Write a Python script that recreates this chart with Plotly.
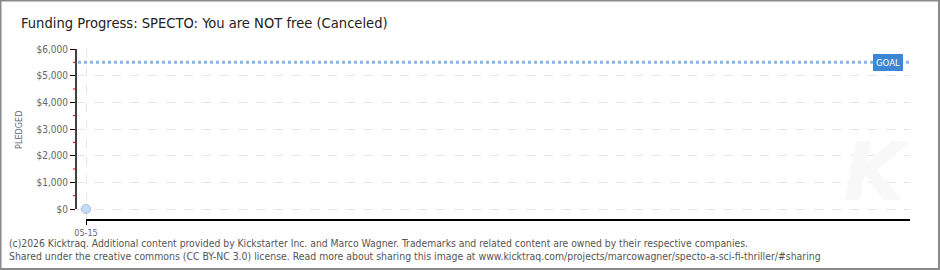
import plotly.graph_objects as go

# ---- data ----
dates = ["05-15"]
day_index = [0]
pledged = [0]
goal = 5500
y_ticks = [0, 1000, 2000, 3000, 4000, 5000, 6000]
y_tick_labels = ["$0", "$1,000", "$2,000", "$3,000", "$4,000", "$5,000", "$6,000"]
minor_ticks = [500, 1500, 2500, 3500, 4500, 5500]
title = "Funding Progress: SPECTO: You are NOT free (Canceled)"
footer1 = "(c)2026 Kicktraq. Additional content provided by Kickstarter Inc. and Marco Wagner. Trademarks and related content are owned by their respective companies."
footer2 = "Shared under the creative commons (CC BY-NC 3.0) license. Read more about sharing this image at www.kicktraq.com/projects/marcowagner/specto-a-sci-fi-thriller/#sharing"

W, H = 940, 270
ML, MR, MT, MB = 76, 30, 49, 50
PW, PH = W - ML - MR, H - MT - MB
XMAX = 1.0
XMIN = -10 / (PW - 10) * XMAX
YMIN, YMAX = -412, 6000

def px_x(p):  # pixel -> paper x
    return (p - ML) / PW

def px_y(p):  # pixel -> paper y
    return (H - MB - p) / PH

fig = go.Figure()

# goal line
fig.add_trace(go.Scatter(
    x=[XMIN * 0.8, XMAX], y=[goal, goal], mode="lines",
    line=dict(color="#86b7e8", width=3, dash="dot"),
    hoverinfo="skip", showlegend=False))

# data point
fig.add_trace(go.Scatter(
    x=day_index, y=pledged, mode="markers",
    marker=dict(size=9, color="#c6dcf4", line=dict(color="#9cbde2", width=1)),
    showlegend=False, cliponaxis=False))

shapes = [
    # y axis line
    dict(type="line", xref="paper", yref="y", x0=0, x1=0, y0=0, y1=YMAX,
         line=dict(color="#000", width=1.5)),
    # x axis line
    dict(type="line", xref="x", yref="paper", x0=0, x1=XMAX, y0=0, y1=0,
         line=dict(color="#000", width=2)),
    # outer border
    dict(type="rect", xref="paper", yref="paper",
         x0=px_x(0.5), x1=px_x(W - 1), y0=px_y(H - 1), y1=px_y(0.5),
         line=dict(color="#8a8a8a", width=2), layer="below"),
]
# red minor ticks
for v in minor_ticks:
    shapes.append(dict(type="line", xref="paper", yref="y",
                       x0=px_x(73), x1=px_x(76), y0=v, y1=v,
                       line=dict(color="#e00000", width=1)))

fig.update_layout(
    width=W, height=H,
    margin=dict(l=ML, r=MR, t=MT, b=MB),
    paper_bgcolor="white", plot_bgcolor="white",
    font=dict(family="DejaVu Sans Condensed, DejaVu Sans", color="#666"),
    xaxis=dict(
        range=[XMIN, XMAX], tickmode="array", tickvals=day_index, ticktext=dates,
        showgrid=True, gridcolor="#e6e6e6", griddash="dash", gridwidth=1,
        zeroline=False, showline=False,
        ticks="outside", ticklen=4, tickcolor="#000", tickwidth=1,
        tickfont=dict(size=9, color="#666"),
    ),
    yaxis=dict(
        range=[YMIN, YMAX], tickmode="array", tickvals=y_ticks, ticktext=y_tick_labels,
        showgrid=True, gridcolor="#e6e6e6", griddash="dash", gridwidth=1,
        zeroline=False, showline=False,
        ticks="outside", ticklen=5, tickcolor="#000", tickwidth=1,
        tickfont=dict(size=10, color="#666"),
    ),
    shapes=shapes,
    annotations=[
        dict(text=title, xref="paper", yref="paper", x=px_x(19), y=px_y(23),
             xanchor="left", yanchor="middle", showarrow=False,
             font=dict(size=14.6, color="#222", family="DejaVu Sans Condensed, DejaVu Sans")),
        dict(text="PLEDGED", xref="paper", yref="paper", x=px_x(19), y=px_y(130),
             xanchor="center", yanchor="middle", showarrow=False, textangle=-90,
             font=dict(size=9, color="#666")),
        dict(text="GOAL", xref="paper", yref="y", x=px_x(888), y=goal,
             xanchor="center", yanchor="middle", showarrow=False,
             bgcolor="#3a87d6", bordercolor="#3a87d6", borderpad=2,
             font=dict(size=9.5, color="white")),
        dict(text="<i><b>K</b></i>", xref="paper", yref="paper", x=px_x(876), y=px_y(172),
             xanchor="center", yanchor="middle", showarrow=False,
             font=dict(size=80, color="#f8f8f8", family="DejaVu Sans")),
        dict(text=footer1, xref="paper", yref="paper", x=px_x(7), y=px_y(243),
             xanchor="left", yanchor="middle", showarrow=False,
             font=dict(size=10.3, color="#555")),
        dict(text=footer2, xref="paper", yref="paper", x=px_x(7), y=px_y(256),
             xanchor="left", yanchor="middle", showarrow=False,
             font=dict(size=10.4, color="#555")),
    ],
)

fig.write_html("out.html")
